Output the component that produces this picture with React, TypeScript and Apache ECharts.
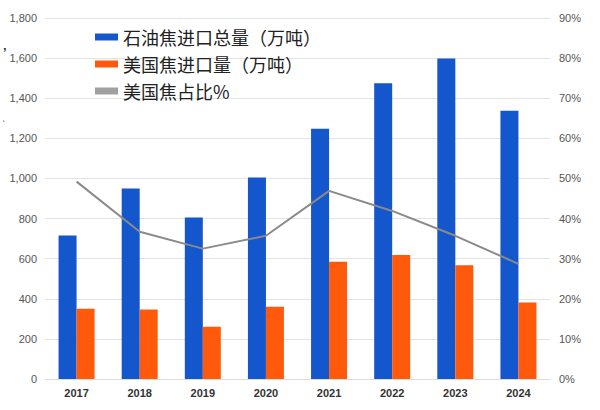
import React, { useEffect, useRef } from "react";
import * as echarts from "echarts";

const years = ["2017", "2018", "2019", "2020", "2021", "2022", "2023", "2024"];
const totalImports = [715, 950, 805, 1005, 1248, 1475, 1598, 1337];
const usImports = [350, 347, 261, 360, 585, 618, 567, 382];
const usShare = [49.2, 36.7, 32.5, 35.7, 46.9, 41.9, 35.7, 28.7];

const leftTicks = { min: 0, max: 1800, interval: 200 };
const rightTicks = { min: 0, max: 90, interval: 10 };

const seriesNames = ["石油焦进口总量（万吨）", "美国焦进口量（万吨）", "美国焦占比%"];

export default function App() {
  const ref = useRef<HTMLDivElement>(null);
  useEffect(() => {
    if (!ref.current) return;
    const chart = echarts.init(ref.current, undefined, { renderer: "svg" });
    const numFont = "'Liberation Sans', Arial, sans-serif";
    chart.setOption({
      animation: false,
      backgroundColor: "#ffffff",
      grid: { left: 45, right: 50, top: 18, bottom: 31 },
      legend: {
        orient: "vertical",
        left: 90,
        top: 23,
        itemWidth: 23,
        itemHeight: 7,
        itemGap: 9,
        icon: "rect",
        data: seriesNames,
        textStyle: {
          fontSize: 18,
          color: "#222",
          fontFamily: "'Noto Sans CJK SC', sans-serif",
        },
      },
      graphic: [
        { type: "text", left: 3, top: 46, style: { text: "’", fontSize: 13, fontWeight: "bold", fill: "#333" } },
        { type: "text", left: 2, top: 119, style: { text: "ˋ", fontSize: 11, fill: "#555" } },
      ],
      xAxis: {
        type: "category",
        data: years,
        axisTick: { show: false },
        axisLine: { show: true, lineStyle: { color: "#dcdcdc", width: 1 } },
        axisLabel: {
          margin: 8,
          fontSize: 11,
          fontWeight: "bold",
          color: "#333",
          fontFamily: numFont,
        },
      },
      yAxis: [
        {
          type: "value",
          ...leftTicks,
          axisLine: { show: false },
          axisTick: { show: false },
          splitLine: { lineStyle: { color: "#e3e3e3", width: 1 } },
          axisLabel: {
            margin: 8,
            fontSize: 11,
            color: "#555",
            fontFamily: numFont,
            formatter: (v: number) => v.toLocaleString("en-US"),
          },
        },
        {
          type: "value",
          ...rightTicks,
          axisLine: { show: false },
          axisTick: { show: false },
          splitLine: { show: false },
          axisLabel: {
            margin: 9,
            fontSize: 11,
            color: "#555",
            fontFamily: numFont,
            formatter: "{value}%",
          },
        },
      ],
      series: [
        {
          name: seriesNames[0],
          type: "bar",
          data: totalImports,
          barWidth: 18,
          barGap: "0%",
          itemStyle: { color: "#1456cc" },
        },
        {
          name: seriesNames[1],
          type: "bar",
          data: usImports,
          barWidth: 18,
          itemStyle: { color: "#ff5a0c" },
        },
        {
          name: seriesNames[2],
          type: "line",
          yAxisIndex: 1,
          data: usShare,
          symbol: "none",
          z: 5,
          lineStyle: { color: "#8a8a8a", width: 2 },
          itemStyle: { color: "#a0a0a0" },
        },
      ],
    });
    return () => chart.dispose();
  }, []);
  return (
    <div
      ref={ref}
      style={{ position: "absolute", left: 0, top: 0, width: 600, height: 410 }}
    />
  );
}
